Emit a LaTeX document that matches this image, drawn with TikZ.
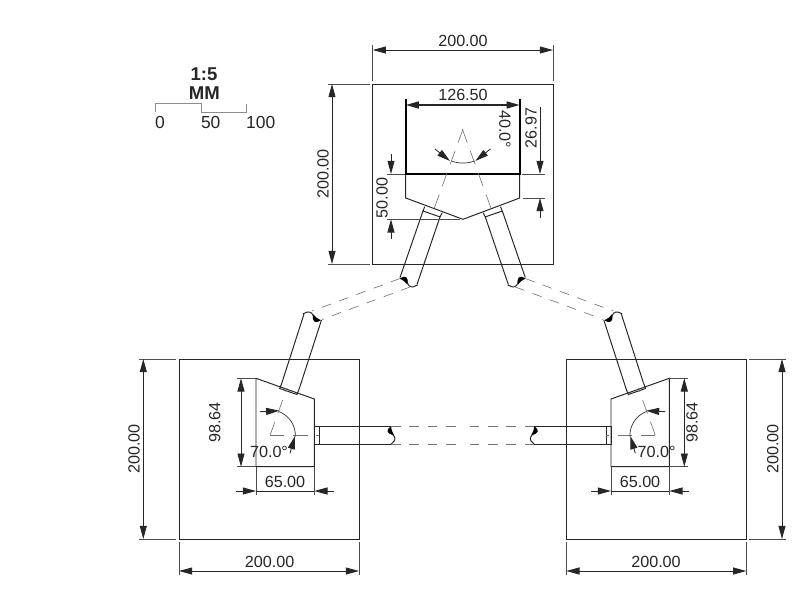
\documentclass[tikz,border=0pt]{standalone}
\usepackage{fontspec}
\setmainfont{Liberation Sans}
\usetikzlibrary{arrows.meta}
\tikzset{
	part/.style={line width=0.7pt, draw=black!85},
	heavy/.style={line width=1.35pt, draw=black},
	extline/.style={line width=0.5pt, draw=black!70},
	dimline/.style={line width=0.6pt, draw=black!85, >={Triangle[length=3.3mm,width=1.75mm]}},
	axisline/.style={line width=0.45pt, draw=black!55, dash pattern=on 3.6mm off 2.2mm},
	linkline/.style={line width=0.45pt, draw=black!55, dash pattern=on 2.4mm off 2.2mm},
	dimtext/.style={font=\fontsize{11.5}{13}\selectfont, inner sep=0pt, text=black!85},
	scaletext/.style={font=\fontsize{12.4}{14}\selectfont, inner sep=0pt, text=black!85}
}
\newcommand{\tornend}[1] % transform of the torn pipe end, width 18.6 px
{
	\begin{scope}[#1]
		\draw[part] (0,0) .. controls (2,-2.5) and (5,-5) .. (8,-3.5) .. controls (10,-2.5) and (11,-1) .. (12,1) .. controls (14,3) and (16,2) .. (18.6,0);
		\fill[black] (10,-3) .. controls (10.5,4) and (15,6) .. (18.6,0) -- (14,-1) -- cycle;
	\end{scope}
}
\newcommand{\sideunit}
{
	% body and sheet
	\draw[part] (179,359) rectangle (359,539);
	\draw[part] (256,378.3) -- (314.3,399) -- (314.3,466.7) -- (256,466.7) -- cycle;
	% inclined pipe
	\draw[part] (282,382.5) -- (279.7,388.5) -- (297,394.5) -- (299.2,388.8);
	\draw[part] (304,314) -- (282,382.5);
	\draw[part] (321.5,320) -- (299.2,388.8);
	\tornend{shift={(303,313.8)},rotate=-20}
	% straight pipe
	\draw[part] (314.3,426.7) rectangle (319.3,444.3);
	\draw[part] (319.3,426.7) -- (391,426.7);
	\draw[part] (319.3,444.3) -- (391,444.3);
	\tornend{shift={(391,444.3)},rotate=90,yscale=-1,xscale=0.95}
	\draw[linkline] (391,426.7) -- (462.6,426.7);
	\draw[linkline] (391,444.3) -- (462.6,444.3);
	% axes and angle
	\draw[axisline] (270,435.3) -- (319,435.3);
	\draw[axisline] (270,435.3) -- (287,388);
	\draw[line width=0.5pt, black!80] (278.7,411.5) arc[start angle=70, end angle=-3, radius=25.3, y radius=-25.3];
	\draw[dimline,->] (260,411.7) -- (279.3,410.7);
	\draw[dimline,->] (290,453.3) -- (295,436);
	% 98.64 and 65.00
	\draw[extline] (237,378.3) -- (256,378.3);
	\draw[extline] (237,466.7) -- (256,466.7);
	\draw[dimline,<->] (241,378.3) -- (241,466.7);
	\draw[extline] (256,467) -- (256,495);
	\draw[extline] (314.3,467) -- (314.3,495);
	\draw[dimline,->] (236,491) -- (256,491);
	\draw[dimline,->] (334,491) -- (314.3,491);
	\draw[dimline] (256,491) -- (314.3,491);
	% outer dimensions
	\draw[extline] (139,359) -- (176,359);
	\draw[extline] (139,539) -- (176,539);
	\draw[dimline,<->] (143.3,359) -- (143.3,539);
	\draw[extline] (179,542) -- (179,575);
	\draw[extline] (359,542) -- (359,575);
	\draw[dimline,<->] (179,571) -- (359,571);
}
\newcommand{\toppipe}
{
	\draw[part] (424.7,206.7) -- (423,211) -- (440,216.9) -- (442.3,212.7);
	\draw[part] (423,211) -- (400,277.5);
	\draw[part] (440,216.9) -- (417,284.5);
	\tornend{shift={(417.6,285)},rotate=160}
	\draw[axisline] (463,129) -- (434,209);
	\draw[linkline] (400,278.5) -- (312,311);
	\draw[linkline] (410,287) -- (322,319.5);
	\draw[dimline,->] (435,149) -- (450,161);
}
\begin{document}
\begin{tikzpicture}[x=0.25mm, y=-0.25mm]
	\useasboundingbox (0,0) rectangle (798,600);
	% 1:5 scale bar
	\node[font=\fontsize{13.2}{15}\selectfont\bfseries, inner sep=0pt, text=black!85] (scaleRatio) at (204,74.3) {1:5};
	\node[font=\fontsize{13.2}{15}\selectfont\bfseries, inner sep=0pt, text=black!85] (scaleUnit) at (204.3,93.3) {MM};
	\draw[line width=0.6pt, black!45] (155.7,112.3) -- (155.7,103.7) -- (201,103.7) -- (201,112.3) -- (246.3,112.3) -- (246.3,103.7);
	\node[scaletext] (scaleZero) at (160,122.7) {0};
	\node[scaletext] (scaleMid) at (210.7,122.7) {50};
	\node[scaletext] (scaleEnd) at (260.7,122.7) {100};

	% top unit
	\draw[part] (372.7,84) rectangle (553,264);
	\draw[part] (405.7,174) -- (405.7,198) -- (463,219.3) -- (519.7,198) -- (519.7,174);
	\draw[heavy] (405.7,99) -- (405.7,174) -- (519.7,174) -- (519.7,99);
	\draw[dimline,<->,line width=1.1pt] (405.7,105) -- (519.7,105);
	\toppipe
	\begin{scope}[shift={(925.3,0)}, xscale=-1]
		\toppipe
	\end{scope}
	\draw[line width=0.5pt, black!80] (451.4,161) arc[start angle=250, end angle=290, radius=34, y radius=-34];
	% top unit dimensions
	\draw[extline] (372.7,45) -- (372.7,81);
	\draw[extline] (553,45) -- (553,81);
	\draw[dimline,<->] (372.7,50) -- (553,50);
	\draw[extline] (328,84) -- (370,84);
	\draw[extline] (328,264) -- (370,264);
	\draw[dimline,<->] (332,84) -- (332,264);
	\draw[extline] (522,174) -- (545,174);
	\draw[extline] (523,198) -- (545,198);
	\draw[dimline,->] (540,107) -- (540,174);
	\draw[dimline,->] (540,218) -- (540,198);
	\draw[extline] (387,174) -- (405,174);
	\draw[extline] (387,219.3) -- (460,219.3);
	\draw[dimline,->] (391,154) -- (391,174);
	\draw[dimline,->] (391,239) -- (391,219.3);
	\node[dimtext] (topWidth) at (463,41) {200.00};
	\node[dimtext, rotate=90] (topHeight) at (323,174) {200.00};
	\node[dimtext] (hopperWidth) at (463,95) {126.50};
	\node[dimtext, rotate=-90] (hopperAngle) at (505,129) {40.0°};
	\node[dimtext, rotate=90] (hopperRise) at (531,128) {26.97};
	\node[dimtext, rotate=90] (hopperDepth) at (382,198) {50.00};

	% left unit
	\sideunit
	\node[dimtext, rotate=90] (leftHeight) at (134,449) {200.00};
	\node[dimtext] (leftWidth) at (269.7,561.7) {200.00};
	\node[dimtext, rotate=90] (leftBody) at (214.7,422.7) {98.64};
	\node[dimtext] (leftBase) at (285,482) {65.00};
	\node[dimtext] (leftAngle) at (269,451.7) {70.0°};

	% right unit
	\begin{scope}[shift={(925.3,0)}, xscale=-1]
		\sideunit
	\end{scope}
	\node[dimtext, rotate=90] (rightHeight) at (772.7,449) {200.00};
	\node[dimtext] (rightWidth) at (656,561.7) {200.00};
	\node[dimtext, rotate=90] (rightBody) at (692,422.7) {98.64};
	\node[dimtext] (rightBase) at (640,482) {65.00};
	\node[dimtext] (rightAngle) at (656.7,451.7) {70.0°};
\end{tikzpicture}
\end{document}
